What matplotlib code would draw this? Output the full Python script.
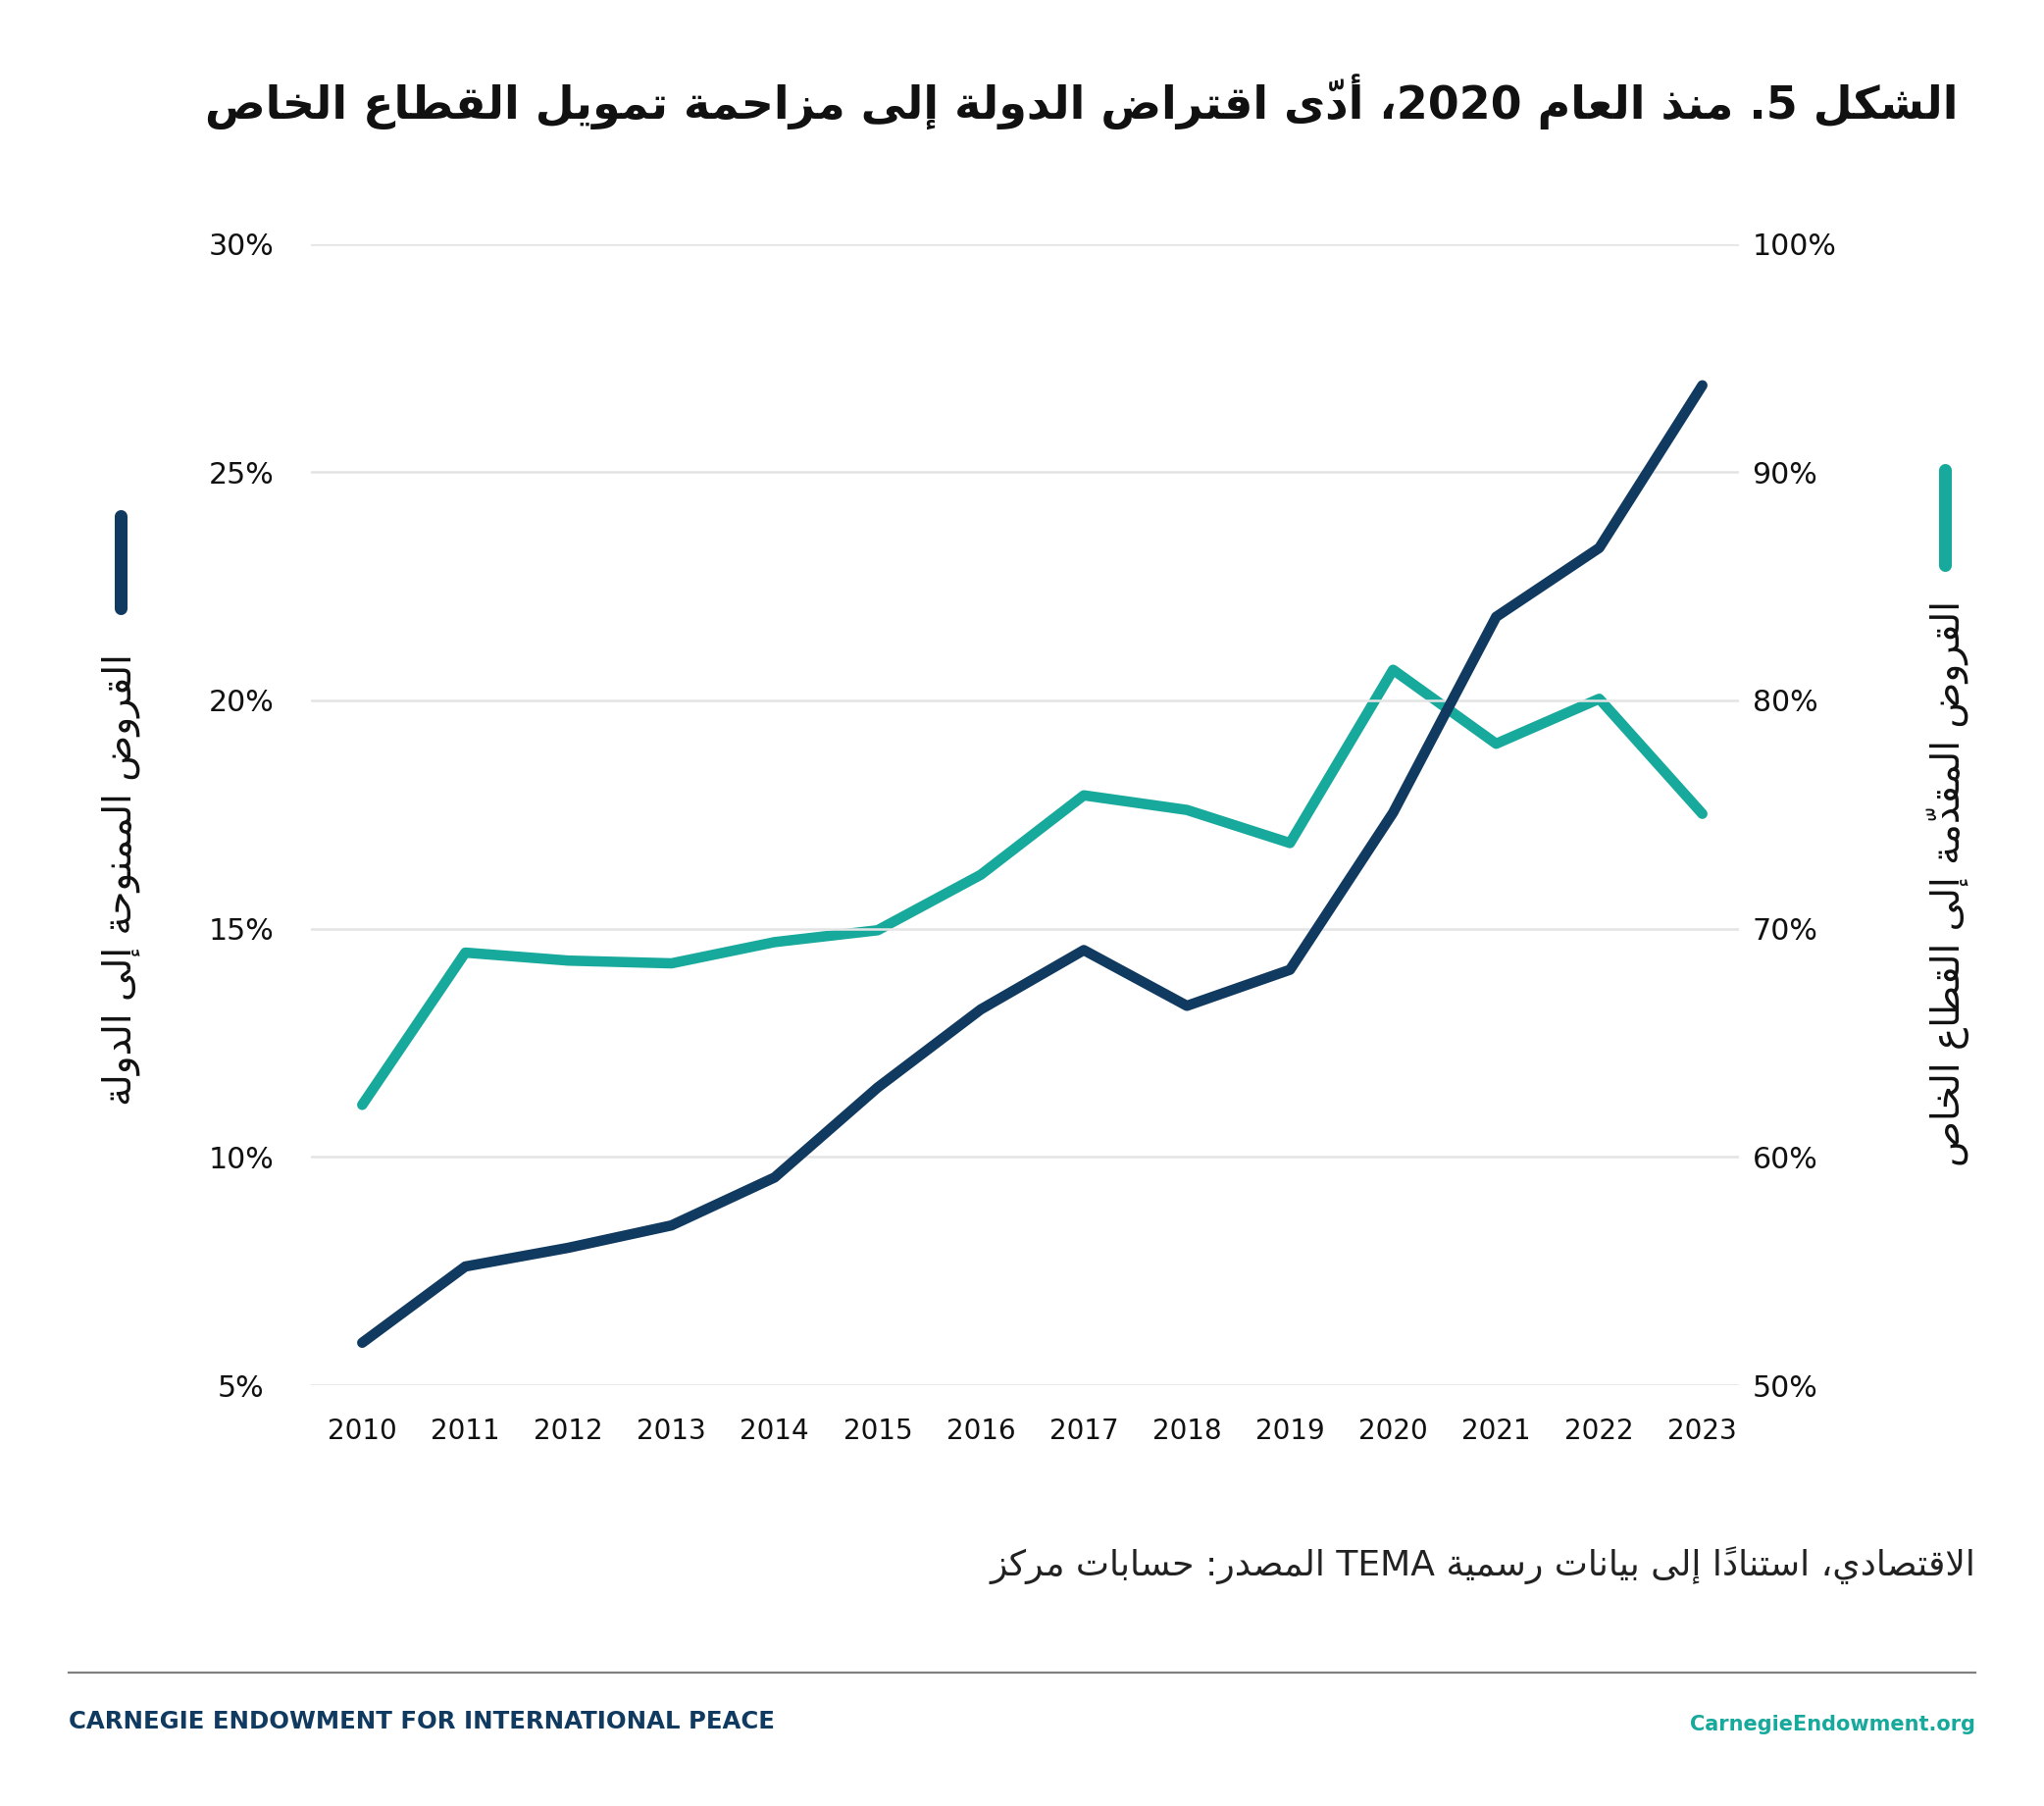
import matplotlib
matplotlib.use("Agg")
import matplotlib.pyplot as plt
from matplotlib.lines import Line2D

plt.rcParams['font.family'] = ['DejaVu Sans']

years = list(range(2010, 2024))
state_loans = [5.93, 7.6, 8.01, 8.5, 9.55, 11.52, 13.23, 14.53, 13.31, 14.1, 17.54, 21.83, 23.34, 26.9]     # % (left axis)
private_loans = [62.28, 68.95, 68.6, 68.48, 69.41, 69.93, 72.36, 75.84, 75.2, 73.75, 81.34, 78.1, 80.07, 75.03]  # % (right axis)
left_ticks = [5, 10, 15, 20, 25, 30]
right_ticks = [50, 60, 70, 80, 90, 100]

title = "الشكل 5. منذ العام 2020، أدّى اقتراض الدولة إلى مزاحمة تمويل القطاع الخاص"
left_label = "القروض الممنوحة إلى الدولة"
right_label = "القروض المقدّمة إلى القطاع الخاص"
source = "المصدر: حسابات مركز TEMA الاقتصادي، استنادًا إلى بيانات رسمية"
footer_left = "CARNEGIE ENDOWMENT FOR INTERNATIONAL PEACE"
footer_right = "CarnegieEndowment.org"

navy = "#113a60"
teal = "#17a99c"

# --- tiny arabic shaper (no raqm in matplotlib 3.10) ---
FORMS = {}
for ch, base, n in [
        ('ء', 0xFE80, 1), ('آ', 0xFE81, 2), ('أ', 0xFE83, 2), ('ؤ', 0xFE85, 2), ('إ', 0xFE87, 2),
        ('ئ', 0xFE89, 4), ('ا', 0xFE8D, 2), ('ب', 0xFE8F, 4), ('ة', 0xFE93, 2), ('ت', 0xFE95, 4),
        ('ث', 0xFE99, 4), ('ج', 0xFE9D, 4), ('ح', 0xFEA1, 4), ('خ', 0xFEA5, 4), ('د', 0xFEA9, 2),
        ('ذ', 0xFEAB, 2), ('ر', 0xFEAD, 2), ('ز', 0xFEAF, 2), ('س', 0xFEB1, 4), ('ش', 0xFEB5, 4),
        ('ص', 0xFEB9, 4), ('ض', 0xFEBD, 4), ('ط', 0xFEC1, 4), ('ظ', 0xFEC5, 4), ('ع', 0xFEC9, 4),
        ('غ', 0xFECD, 4), ('ف', 0xFED1, 4), ('ق', 0xFED5, 4), ('ك', 0xFED9, 4), ('ل', 0xFEDD, 4),
        ('م', 0xFEE1, 4), ('ن', 0xFEE5, 4), ('ه', 0xFEE9, 4), ('و', 0xFEED, 2), ('ى', 0xFEEF, 2),
        ('ي', 0xFEF1, 4)]:
    FORMS[ch] = (base, n)
LAM_ALEF = {'ا': 0xFEFB, 'أ': 0xFEF7, 'إ': 0xFEF9, 'آ': 0xFEF5}
MARKS = set(chr(c) for c in range(0x064B, 0x0653))


def joining(key):
    if isinstance(key, tuple):
        return LAM_ALEF[key[1]], 2
    return FORMS.get(key)


def shape(s):
    cl = []
    for ch in s:
        if ch in MARKS and cl:
            cl[-1][1] += ch
        else:
            cl.append([ch, ""])
    merged = []
    i = 0
    while i < len(cl):
        if cl[i][0] == 'ل' and i + 1 < len(cl) and cl[i + 1][0] in LAM_ALEF:
            merged.append([('LA', cl[i + 1][0]), cl[i][1] + cl[i + 1][1]])
            i += 2
        else:
            merged.append(cl[i])
            i += 1
    out = []
    for i, (key, mk) in enumerate(merged):
        info = joining(key)
        if info is None:
            out.append((key, mk, False))
            continue
        base, n = info
        prev = joining(merged[i - 1][0]) if i > 0 else None
        nxt = joining(merged[i + 1][0]) if i + 1 < len(merged) else None
        jp = prev is not None and prev[1] == 4 and n >= 2
        jn = n == 4 and nxt is not None and nxt[1] >= 2
        k = 3 if (jp and jn) else 2 if jn else 1 if jp else 0
        out.append((chr(base + k), mk, True))
    return out


def visual(s, para='R'):
    # simple bidi: arabic letters are R, latin/digits are L,
    # a neutral takes its neighbours' direction when they agree, else the paragraph's
    cl = shape(s)
    strong = ['R' if a else ('L' if g.isascii() and g.isalnum() else None) for g, mk, a in cl]
    dirs = []
    for i, d in enumerate(strong):
        if d:
            dirs.append(d)
            continue
        p = next((strong[j] for j in range(i - 1, -1, -1) if strong[j]), para)
        q = next((strong[j] for j in range(i + 1, len(cl)) if strong[j]), para)
        dirs.append(p if p == q else para)
    runs = []
    for (g, mk, a), d in zip(cl, dirs):
        item = (mk + g) if d == 'R' else (g + mk)
        if runs and runs[-1][0] == d:
            runs[-1][1].append(item)
        else:
            runs.append([d, [item]])
    if para == 'R':
        runs = runs[::-1]
    return "".join("".join(reversed(it) if d == 'R' else it) for d, it in runs)


fig = plt.figure(figsize=(10.42, 9.205), dpi=200)
ax = fig.add_axes([0.152, 0.233, 0.699, 0.632])
ax2 = ax.twinx()
ax.set_zorder(ax2.get_zorder() + 1)
ax.patch.set_visible(False)

ax2.plot(years, private_loans, color=teal, lw=3.8, solid_capstyle='round', solid_joinstyle='round')
ax.plot(years, state_loans, color=navy, lw=3.8, solid_capstyle='round', solid_joinstyle='round')

ax.set_xlim(2009.5, 2023.36)
ax.set_ylim(5, 30)
ax2.set_ylim(50, 100)

ax.set_yticks(left_ticks)
ax.set_yticklabels([f"{t}%" for t in left_ticks])
ax2.set_yticks(right_ticks)
ax2.set_yticklabels([f"{t}%" for t in right_ticks])
ax.set_xticks(years)
ax.set_xticklabels([str(y) for y in years])

ax.grid(axis='y', color='#e4e4e4', lw=0.9)
ax.grid(axis='x', visible=False)
for a in (ax, ax2):
    for sp in a.spines.values():
        sp.set_visible(False)

ax.tick_params(axis='y', length=0, pad=25.5, labelsize=10.8, labelcolor='#111111')
ax.tick_params(axis='x', length=0, pad=12, labelsize=10, labelcolor='#111111')
ax2.tick_params(axis='y', length=0, pad=4.7, labelsize=10.8, labelcolor='#111111')
for lbl in ax.get_yticklabels():
    lbl.set_ha('center')

# title
fig.text(0.958, 0.9435, visual(title), ha='right', va='center', fontsize=16.5, fontweight='bold', color='#111111')

# axis titles with colour keys
fig.add_artist(Line2D([0.059, 0.059], [0.7143, 0.6632], transform=fig.transFigure,
                      color=navy, lw=4.7, solid_capstyle='round'))
fig.text(0.059, 0.5128, visual(left_label), rotation=90, ha='center', va='center', fontsize=14, color='#111111')
fig.add_artist(Line2D([0.9515, 0.9515], [0.7398, 0.6871], transform=fig.transFigure,
                      color=teal, lw=4.7, solid_capstyle='round'))
fig.text(0.953, 0.511, visual(right_label), rotation=90, ha='center', va='center', fontsize=14, color='#111111')

# source (laid out left-to-right as in the reference)
fig.text(0.9664, 0.1331, visual(source, para='L'), ha='right', va='center', fontsize=13, color='#222222')

# footer
fig.add_artist(Line2D([0.0336, 0.9664], [0.0739, 0.0739], transform=fig.transFigure, color='#808080', lw=0.8))
fig.text(0.0336, 0.0467, footer_left, ha='left', va='center', fontsize=8.8, fontweight='bold', color=navy)
fig.text(0.9664, 0.0451, footer_right, ha='right', va='center', fontsize=7.5, fontweight='bold', color=teal)

fig.savefig('out.png', dpi=200)
